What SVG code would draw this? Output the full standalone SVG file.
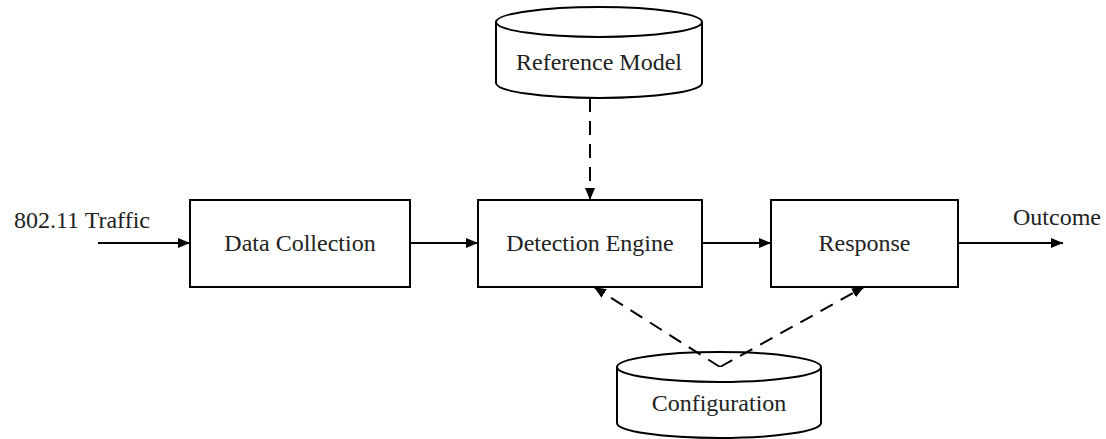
<svg xmlns="http://www.w3.org/2000/svg" width="1106" height="439" viewBox="0 0 1106 439">
<style>
.box{fill:#fff;stroke:#000;stroke-width:2}
.t{font-family:"Liberation Serif","Times New Roman",serif;font-size:24px;fill:#222;text-anchor:middle}
.c{fill:none;stroke:#000;stroke-width:2}
.d{fill:none;stroke:#000;stroke-width:2;stroke-dasharray:14 9}
</style>
<defs>
<marker id="ah" viewBox="0 0 12 10" refX="12" refY="5" markerWidth="12" markerHeight="10" markerUnits="userSpaceOnUse" orient="auto">
<path d="M0,0 L12,5 L0,10 Z" fill="#000"/>
</marker>
</defs>
<rect width="1106" height="439" fill="#fff"/>
<g id="connectors">
<path class="c" d="M98,243 H190" marker-end="url(#ah)"/>
<path class="c" d="M410,243 H478" marker-end="url(#ah)"/>
<path class="c" d="M702,243 H771" marker-end="url(#ah)"/>
<path class="c" d="M958,243 H1063" marker-end="url(#ah)"/>
<path class="d" d="M590,98 V200" marker-end="url(#ah)"/>
<path class="d" d="M720,367 L594,287" marker-end="url(#ah)"/>
<path class="d" d="M720,367 L864,287" marker-end="url(#ah)"/>
</g>
<text class="t" x="82" y="228">802.11 Traffic</text>
<text class="t" x="1057" y="225">Outcome</text>
<g id="data-collection">
<rect class="box" x="190" y="200" width="220" height="87"/>
<text class="t" x="300" y="251">Data Collection</text>
</g>
<g id="detection-engine">
<rect class="box" x="478" y="200" width="224" height="87"/>
<text class="t" x="590" y="251">Detection Engine</text>
</g>
<g id="response">
<rect class="box" x="771" y="200" width="187" height="87"/>
<text class="t" x="864.5" y="251">Response</text>
</g>
<g id="reference-model">
<path class="box" d="M496,22 V83 A103,15 0 0 0 702,83 V22"/>
<ellipse class="box" cx="599" cy="22" rx="103" ry="15"/>
<text class="t" x="599" y="70">Reference Model</text>
</g>
<g id="configuration">
<path class="box" d="M617,367 V423 A102,15 0 0 0 821,423 V367"/>
<ellipse class="box" cx="719" cy="367" rx="102" ry="15" fill-opacity="0"/>
<text class="t" x="719" y="411">Configuration</text>
</g>
</svg>
